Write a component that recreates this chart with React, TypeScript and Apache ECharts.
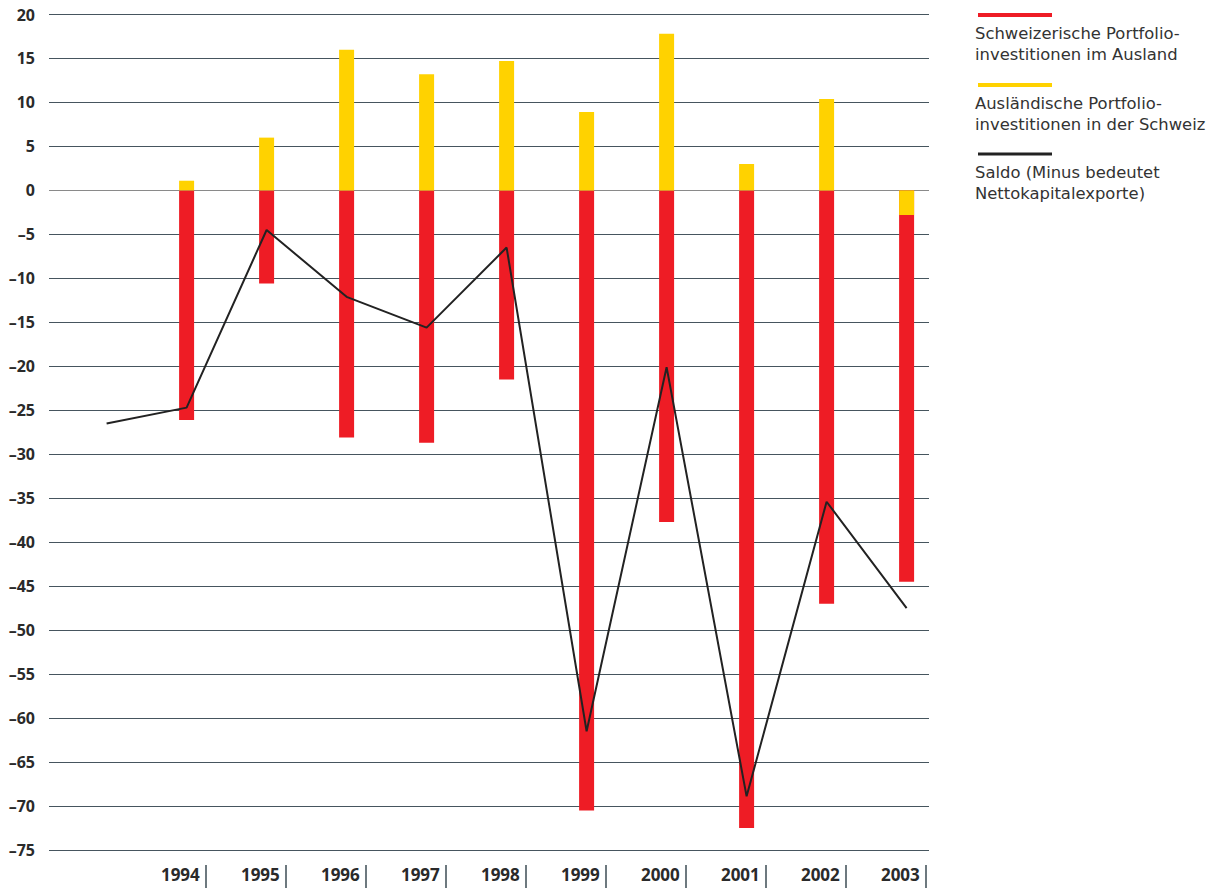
import React, { useEffect, useRef } from "react";
import * as echarts from "echarts";

const lineYears = [1993, 1994, 1995, 1996, 1997, 1998, 1999, 2000, 2001, 2002, 2003];
const barYears = [1994, 1995, 1996, 1997, 1998, 1999, 2000, 2001, 2002, 2003];
const swissAbroad = [-26.1, -10.6, -28.1, -28.7, -21.5, -70.5, -37.7, -72.5, -47.0, -44.5];
const foreignInSwiss = [1.1, 6.0, 16.0, 13.2, 14.7, 8.9, 17.8, 3.0, 10.4, -2.8];
const saldo = [-26.5, -24.7, -4.5, -12.1, -15.6, -6.5, -61.5, -20.1, -68.9, -35.4, -47.5];

const legendItems = [
  { color: "#ee1c25", lines: ["Schweizerische Portfolio-", "investitionen im Ausland"] },
  { color: "#ffd200", lines: ["Ausländische Portfolio-", "investitionen in der Schweiz"] },
  { color: "#222222", lines: ["Saldo (Minus bedeutet", "Nettokapitalexporte)"] },
];

const FONT = "'Open Sans', 'DejaVu Sans', sans-serif";
const LEGEND_FONT = "'DejaVu Sans', sans-serif";

export default function App() {
  const ref = useRef<HTMLDivElement>(null);
  useEffect(() => {
    if (!ref.current) return;
    const chart = echarts.init(ref.current, undefined, { renderer: "svg" });
    const tickVals = barYears.map((y) => y + 0.24);
    const gridColors: string[] = [];
    for (let v = -75; v <= 20; v += 5) gridColors.push(v === 0 ? "#8a8a8a" : "#46555e");

    const legendTops = [15, 85, 154];
    const graphic: any[] = [];
    legendItems.forEach((it, i) => {
      graphic.push({
        type: "line",
        shape: { x1: 978, y1: legendTops[i], x2: 1052, y2: legendTops[i] },
        style: { stroke: it.color, lineWidth: i === 2 ? 3 : 4 },
      });
      it.lines.forEach((ln, j) => {
        graphic.push({
          type: "text",
          x: 975,
          y: legendTops[i] + 18 + j * 21.5,
          style: {
            text: ln,
            font: `16.4px ${LEGEND_FONT}`,
            fill: "#333333",
            verticalAlign: "middle",
            align: "left",
          },
        });
      });
    });

    chart.setOption({
      animation: false,
      grid: { left: 49, right: 284, top: 14.5, bottom: 43, containLabel: false },
      xAxis: {
        type: "value",
        min: 1992.28,
        max: 2003.28,
        offset: 15,
        axisLine: { show: false, onZero: false },
        splitLine: { show: false },
        axisTick: {
          show: true,
          length: 23,
          customValues: tickVals,
          lineStyle: { color: "#3d4c55", width: 1.5 },
        },
        axisLabel: {
          customValues: tickVals,
          formatter: (v: number) => String(Math.floor(v)),
          align: "right",
          padding: [0, 6, 0, 0],
          margin: 1,
          fontFamily: FONT,
          fontWeight: "bold",
          fontSize: 17,
          color: "#2a2a2a",
        },
      },
      yAxis: {
        type: "value",
        min: -75,
        max: 20,
        interval: 5,
        axisLine: { show: false },
        axisTick: { show: false },
        splitLine: { show: true, lineStyle: { color: gridColors, width: 1.2 } },
        axisLabel: {
          margin: 14,
          formatter: (v: number) => String(v).replace("-", "\u2013"),
          fontFamily: FONT,
          fontWeight: "bold",
          fontSize: 16,
          color: "#2a2a2a",
        },
      },
      series: [
        {
          name: "Schweizerische Portfolioinvestitionen im Ausland",
          type: "bar",
          barWidth: 15,
          barGap: "-100%",
          itemStyle: { color: "#ee1c25" },
          data: barYears.map((y, i) => [y, swissAbroad[i]]),
        },
        {
          name: "Ausländische Portfolioinvestitionen in der Schweiz",
          type: "bar",
          barWidth: 15,
          barGap: "-100%",
          itemStyle: { color: "#ffd200" },
          data: barYears.map((y, i) => [y, foreignInSwiss[i]]),
        },
        {
          name: "Saldo",
          type: "line",
          symbol: "none",
          lineStyle: { color: "#222222", width: 2 },
          data: lineYears.map((y, i) => [y, saldo[i]]),
          z: 5,
        },
      ],
      graphic,
    });
    return () => chart.dispose();
  }, []);
  return (
    <div
      ref={ref}
      style={{ position: "fixed", left: 0, top: 0, width: 1213, height: 893, background: "#fff" }}
    />
  );
}
